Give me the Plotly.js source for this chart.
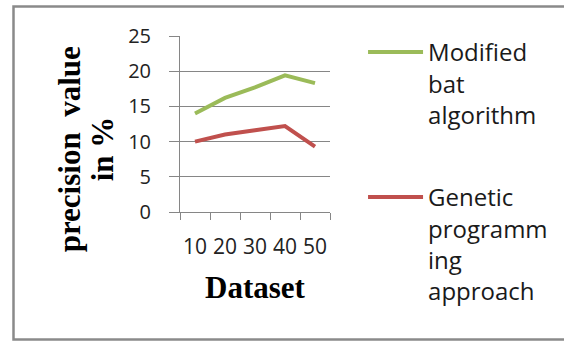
<!DOCTYPE html>
<html>
<head>
<meta charset="utf-8">
<script src="https://cdn.plot.ly/plotly-3.0.1.min.js"></script>
<style>
html,body{margin:0;padding:0;background:#fff;}
#chart{width:564px;height:341px;}
</style>
</head>
<body>
<div id="chart"></div>
<script>
var categories = ["10", "20", "30", "40", "50"];
var modifiedBat = [14.0, 16.2, 17.7, 19.4, 18.3];
var geneticProgramming = [10.0, 11.0, 11.6, 12.2, 9.3];
var seriesNames = ["Modified<br>bat<br>algorithm", "Genetic<br>programm<br>ing<br>approach"];
var yTickValues = [0, 5, 10, 15, 20, 25];

var traces = [
  {x: categories, y: modifiedBat, name: seriesNames[0], type: "scatter", mode: "lines",
   line: {color: "#9BBB59", width: 4}, legend: "legend"},
  {x: categories, y: geneticProgramming, name: seriesNames[1], type: "scatter", mode: "lines",
   line: {color: "#C0504D", width: 4}, legend: "legend2"}
];

var legendStyle = function (y) {
  return {
    xref: "container", yref: "container",
    x: 0.6437, y: y, xanchor: "left", yanchor: "top",
    font: {family: "Open Sans", size: 24, color: "#1a1a1a"},
    valign: "top", itemwidth: 55, bgcolor: "rgba(0,0,0,0)"
  };
};

var layout = {
  width: 564, height: 341,
  margin: {l: 180, r: 234, t: 36, b: 129, pad: 0},
  paper_bgcolor: "#fff", plot_bgcolor: "#fff",
  showlegend: true,
  legend: legendStyle(0.912),
  legend2: legendStyle(0.4868),
  xaxis: {
    type: "category", range: [-0.5, 4.5],
    showline: true, linecolor: "#868686", linewidth: 1,
    ticks: "outside", ticklen: 7, tickcolor: "#868686", tickson: "boundaries",
    ticklabelstandoff: 16, tickangle: 0,
    tickfont: {family: "Open Sans", size: 21, color: "#222"},
    showgrid: false, zeroline: false, fixedrange: true
  },
  yaxis: {
    range: [0, 25], tickvals: yTickValues, ticktext: yTickValues.map(String),
    showline: true, linecolor: "#868686", linewidth: 1,
    ticks: "outside", ticklen: 10, tickcolor: "#868686",
    ticklabelstandoff: 14,
    showgrid: true, gridcolor: "#868686", gridwidth: 1,
    tickfont: {family: "Open Sans", size: 20, color: "#222"},
    zeroline: false, fixedrange: true
  },
  annotations: [
    {text: "<b>Dataset</b>", xref: "paper", yref: "paper", x: 0.5, y: -0.428,
     xanchor: "center", yanchor: "middle", showarrow: false,
     font: {family: "Liberation Serif", size: 31, color: "#000"}},
    {text: "<b>precision\u00a0\u00a0value</b>", xref: "paper", yref: "paper", x: -0.74, y: 0.356,
     xanchor: "center", yanchor: "middle", showarrow: false, textangle: -90,
     font: {family: "Liberation Serif", size: 31, color: "#000"}},
    {text: "<b>in %</b>", xref: "paper", yref: "paper", x: -0.52, y: 0.356,
     xanchor: "center", yanchor: "middle", showarrow: false, textangle: -90,
     font: {family: "Liberation Serif", size: 31, color: "#000"}}
  ],
  shapes: [
    {type: "rect", xref: "paper", yref: "paper", x0: -1.11, x1: 2.8, y0: -0.725, y1: 1.168,
     line: {color: "#8a8a8a", width: 2.5}, fillcolor: "rgba(0,0,0,0)", layer: "below"}
  ]
};

Plotly.newPlot("chart", traces, layout, {staticPlot: true, displayModeBar: false});
</script>
</body>
</html>
